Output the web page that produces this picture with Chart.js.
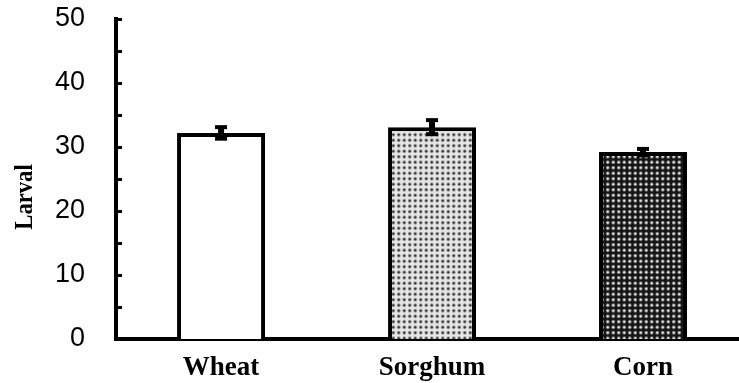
<!DOCTYPE html>
<html><head><meta charset="utf-8">
<script src="https://cdn.jsdelivr.net/npm/chart.js@4/dist/chart.umd.min.js"></script>
<style>html,body{margin:0;padding:0;background:#fff}#wrap{width:739px;height:383px;position:relative}</style>
</head><body><div id="wrap"><canvas id="c"></canvas></div>
<script>
// ---- data ----
const categories = ['Wheat', 'Sorghum', 'Corn'];
const larvalValues = [32.2, 33.1, 29.2];
const larvalErrors = [0.9, 1.1, 0.5];
const yAxisTitle = 'Larval';

// ---- styles ----
function makeDots(bg, halo, dot) {
  const c = document.createElement('canvas');
  c.width = 11; c.height = 11;
  const g = c.getContext('2d');
  g.fillStyle = bg; g.fillRect(0, 0, 11, 11);
  [[2.75, 2.75], [8.25, 2.75], [2.75, 8.25], [8.25, 8.25]].forEach(([x, y]) => {
    g.fillStyle = halo; g.beginPath(); g.arc(x, y, 1.9, 0, 7); g.fill();
    g.fillStyle = dot; g.beginPath(); g.arc(x, y, 1.1, 0, 7); g.fill();
  });
  return g.createPattern(c, 'repeat');
}
const barFills = ['#ffffff', makeDots('#e6e6e6', '#9a9a9a', '#333333'), makeDots('#151515', '#777777', '#e8e8e8')];

const decor = {
  id: 'decor',
  afterDatasetsDraw(chart) {
    const ctx = chart.ctx, y = chart.scales.y;
    const meta = chart.getDatasetMeta(0);
    ctx.save();
    ctx.strokeStyle = '#000';
    meta.data.forEach((bar, i) => {
      const x = bar.x;
      const yt = y.getPixelForValue(larvalValues[i] + larvalErrors[i]);
      const yb = y.getPixelForValue(larvalValues[i] - larvalErrors[i]);
      ctx.lineWidth = 6;
      ctx.beginPath(); ctx.moveTo(x, yt); ctx.lineTo(x, yb); ctx.stroke();
      ctx.lineWidth = 4;
      ctx.beginPath(); ctx.moveTo(x - 6, yt); ctx.lineTo(x + 6, yt); ctx.stroke();
      ctx.beginPath(); ctx.moveTo(x - 6, yb); ctx.lineTo(x + 6, yb); ctx.stroke();
    });
    ctx.restore();
  },
  afterDraw(chart) {
    const ctx = chart.ctx, y = chart.scales.y, area = chart.chartArea;
    ctx.save();
    ctx.strokeStyle = '#000'; ctx.lineWidth = 3;
    y.ticks.forEach(t => {
      const py = Math.round(y.getPixelForValue(t.value)) + 0.5;
      ctx.beginPath(); ctx.moveTo(area.left, py); ctx.lineTo(area.left + 6, py); ctx.stroke();
    });
    ctx.fillStyle = '#000';
    ctx.translate(25, 197); ctx.rotate(-Math.PI / 2); ctx.scale(0.87, 1);
    ctx.font = 'bold 26px "Liberation Serif"';
    ctx.textAlign = 'center'; ctx.textBaseline = 'middle';
    ctx.fillText(yAxisTitle, 0, 0);
    ctx.restore();
  }
};

new Chart(document.getElementById('c'), {
  type: 'bar',
  data: {
    datasets: [{
      data: categories.map((c, i) => ({ x: i, y: larvalValues[i] })),
      backgroundColor: barFills,
      borderColor: '#000',
      borderWidth: 4,
      borderSkipped: 'start',
      barPercentage: 0.417,
      categoryPercentage: 1
    }]
  },
  options: {
    responsive: true, maintainAspectRatio: false, animation: false, devicePixelRatio: 1,
    layout: { padding: { top: 19, left: 0, right: 0, bottom: 0 } },
    plugins: { legend: { display: false }, tooltip: { enabled: false } },
    scales: {
      x: {
        type: 'linear', min: -0.498, max: 2.455, z: 1, offset: false,
        grid: { display: false, drawTicks: false, offset: false },
        border: { display: true, color: '#000', width: 4 },
        afterBuildTicks: s => { s.ticks = categories.map((c, i) => ({ value: i })); },
        afterFit: s => { s.height = 44; s.paddingLeft = 0; s.paddingRight = 0; },
        ticks: {
          callback: v => categories[v], color: '#000', autoSkip: false, maxRotation: 0,
          font: { family: '"Liberation Serif"', size: 27, weight: 'bold' }, padding: 13
        }
      },
      y: {
        min: 0, max: 50, z: 1,
        grid: { display: false, drawTicks: false },
        border: { display: true, color: '#000', width: 4 },
        afterFit: s => { s.width = 116; s.paddingTop = 0; s.paddingBottom = 0; },
        ticks: {
          stepSize: 5, autoSkip: false, color: '#000',
          callback: v => (v % 10 === 0 ? v : ''),
          font: { family: '"Liberation Sans"', size: 27 }, padding: 31
        }
      }
    }
  },
  plugins: [decor]
});
</script></body></html>
